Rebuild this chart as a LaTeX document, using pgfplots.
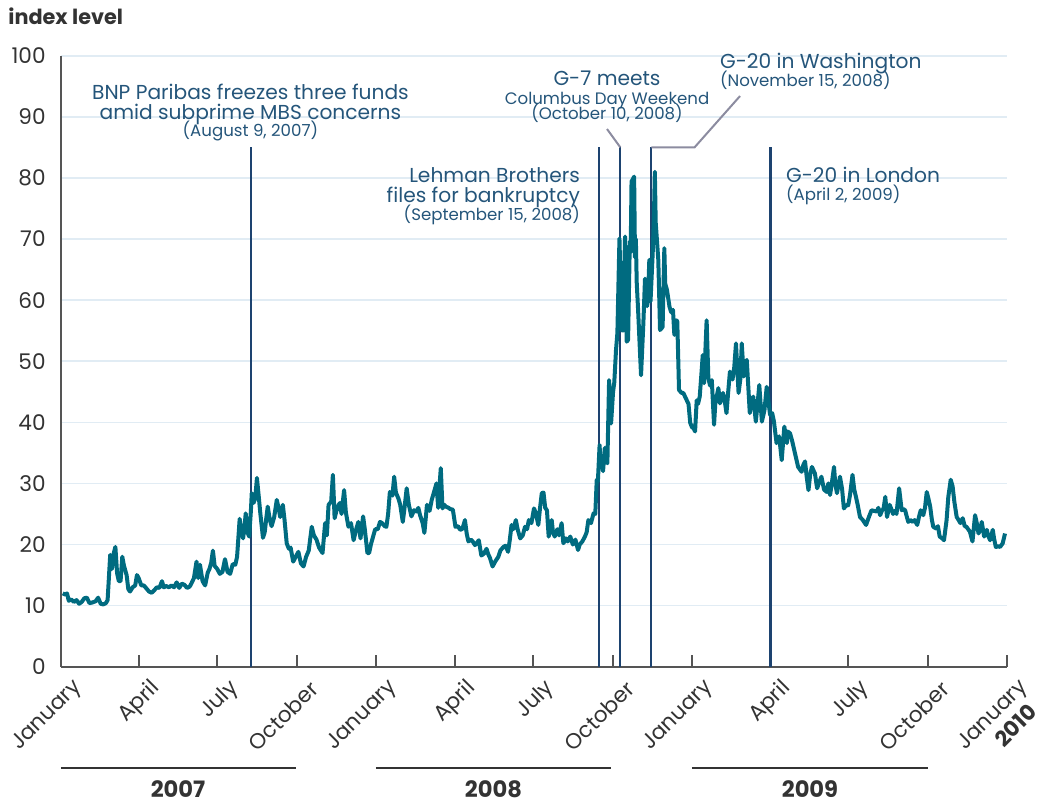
\documentclass[border=0pt]{standalone}
\usepackage{fontspec}
\setmainfont{Poppins}
\usepackage{pgfplots}
\pgfplotsset{compat=1.18}
\definecolor{vixline}{HTML}{006B80}
\definecolor{evline}{HTML}{1D4370}
\definecolor{annot}{HTML}{24557A}
\definecolor{leader}{HTML}{8C8CA0}
\definecolor{gridblue}{HTML}{E1ECF4}
\definecolor{axisgray}{HTML}{555555}
\definecolor{labelgray}{HTML}{333333}
\newcommand{\fsA}{\fontsize{10.8bp}{12bp}\selectfont}% ticks
\newcommand{\fsY}{\fontsize{11.3bp}{13bp}\selectfont}% years
\newcommand{\fsB}{\fontsize{10.1bp}{12bp}\selectfont}% event titles
\newcommand{\fsC}{\fontsize{8.3bp}{10bp}\selectfont}% event dates

\begin{document}
\begin{tikzpicture}
\useasboundingbox (0,0) rectangle (522.5bp,-403bp);
\begin{axis}[
  at={(30.5bp,-333.35bp)}, anchor=south west,
  scale only axis, width=473bp, height=305.5bp,
  xmin=0, xmax=1096, ymin=0, ymax=100,
  clip=false,
  axis x line=bottom, axis y line=left,
  axis line style={draw=axisgray, line width=1bp, -},
  xtick={0,90,181,273,365,456,547,639,731,821,912,1004,1096},
  xticklabels={January,April,July,October,January,April,July,October,January,April,July,October,January},
  x tick style={draw=axisgray, line width=1bp},
  major tick length=6bp,
  tick align=inside,
  ytick={0,10,...,100},
  y tick style={draw=none},
  ymajorgrids, grid style={gridblue, line width=0.8bp},
  tick label style={font=\fsA, text=labelgray},
  /pgf/number format/assume math mode=true,
  yticklabel style={anchor=east, inner sep=0pt, xshift=-7.5bp},
  xticklabel style={anchor=east, inner sep=0pt, xshift=9bp, yshift=-9bp, rotate=45},
]
% event lines
\draw[evline, line width=1.1bp] (axis cs:220,0) -- (axis cs:220,85);
\draw[evline, line width=1.1bp] (axis cs:623,0) -- (axis cs:623,85);
\draw[evline, line width=1.1bp] (axis cs:648,0) -- (axis cs:648,85);
\draw[evline, line width=1.1bp] (axis cs:684,0) -- (axis cs:684,85);
\draw[evline, line width=1.1bp] (axis cs:822,0) -- (axis cs:822,85);
% leaders
\draw[leader, line width=1bp] (axis cs:632.6,88) -- (axis cs:648,85);
\draw[leader, line width=1bp] (axis cs:786.7,93.4) -- (axis cs:734,85) -- (axis cs:684,85);

% index level
\addplot[vixline, line width=2bp, line join=round] coordinates {
(2,12.0) (5,11.8) (7,12.0) (9,10.8) (12,11.0) (15,10.6) (18,10.9) (21,10.3)
(24,10.6) (27,11.2) (30,11.3) (33,10.4) (36,10.5) (40,10.7) (43,11.3) (46,10.3)
(49,10.2) (52,10.4) (54,10.9) (57,18.3) (59,16.0) (61,18.5) (63,19.6) (65,15.3)
(67,14.0) (69,14.0) (71,18.0) (73,16.5) (76,15.0) (78,12.7) (80,12.3) (83,13.0)
(86,13.3) (88,15.0) (90,14.5) (93,13.3) (96,13.3) (99,12.8) (102,12.3) (105,12.1)
(108,12.5) (111,13.0) (114,12.9) (117,14.0) (119,13.0) (122,13.2) (125,13.0)
(128,13.3) (131,13.0) (134,13.8) (137,12.9) (140,13.6) (143,13.4) (146,12.9)
(149,13.1) (151,13.6) (154,14.5) (157,17.2) (159,14.5) (161,16.7) (164,14.0)
(167,13.3) (170,15.4) (172,16.0) (174,17.0) (176,19.0) (178,16.5) (181,16.0)
(184,15.2) (187,15.5) (190,17.6) (193,15.5) (196,15.2) (199,16.8) (202,16.7)
(204,18.0) (207,24.2) (209,22.0) (211,21.0) (213,23.5) (214,25.1) (216,22.0)
(218,21.3) (220,25.5) (221,28.4) (223,26.8) (225,27.5) (227,30.9) (229,28.0)
(231,25.0) (234,21.1) (236,22.0) (238,24.5) (239.5,26.2) (242,24.0) (244,23.0)
(247,24.5) (250,27.3) (252,26.0) (254,24.5) (257,26.5) (259,24.0) (261.5,20.2)
(264,19.3) (266,19.5) (269,17.2) (272,18.0) (275,18.8) (278,16.9) (281,16.4)
(284,18.0) (287,19.0) (290.5,22.9) (293,21.5) (296,20.8) (299,19.5) (303,18.6)
(306,23.5) (308,21.5) (310,26.5) (313,27.0) (315,31.4) (317,24.3) (320,26.0)
(323,26.8) (325,25.0) (328,28.9) (330,25.3) (333,22.9) (336,23.5) (339,20.7)
(342,22.5) (344.5,23.7) (347,21.0) (350,24.6) (352,22.5) (355,18.6) (357,18.6)
(359,20.0) (362,21.5) (364,22.5)
(367,22.5) (369.6,23.7) (372,23.5) (375,23.0) (377,22.9) (379,25.0) (381,28.6)
(384,28.0) (386,31.1) (388,28.5) (391,27.5) (393,26.5) (396,23.7) (398,26.0)
(400.5,29.2) (403,26.5) (406,24.6) (409,25.6) (412,25.4) (414,26.0) (416,24.8)
(419,23.5) (421,21.9) (424,26.5) (427,25.5) (429.5,27.3) (432,28.5) (435,30.0)
(437,26.0) (439,30.5) (440,32.5) (442,25.9) (444,26.5) (446,26.2) (449,26.0)
(451,25.8) (454,25.7) (457,22.9) (460,23.0) (462,22.5) (464,22.4) (466,23.0)
(468,24.0) (470,21.8) (472,20.5) (475,20.8) (477,20.5) (479.6,19.9) (482,20.3)
(484,20.7) (487,18.2) (490,18.5) (493,19.3) (495,18.4) (497,17.8) (500,16.4)
(503,17.2) (506.7,18.0) (509,19.0) (512.5,19.6) (515,19.8) (518,18.8) (520,20.8)
(522,23.2) (524,22.5) (527,24.0) (529,22.5) (532,21.0) (535,21.5) (537.6,22.9)
(540,22.5) (542,24.0) (545,23.5) (548,25.9) (550,25.2) (553,23.2) (555,26.0)
(557,28.4) (559,28.5) (561,26.0) (563,25.6) (565,21.3) (567,22.5) (568.5,24.0)
(570,22.0) (572,21.3) (575,22.5) (577,21.5) (580,23.5) (582,20.2) (585,21.0)
(587,20.5) (590,21.3) (593,20.0) (596,20.8) (599,19.1) (601,20.0) (604,20.5)
(607,21.3) (609,22.0) (611,24.0) (614,23.5) (617,25.1) (619,25.0) (620.7,30.6)
(622,30.3) (624,36.3) (625,33.0) (626.6,33.3) (628,32.0) (630,35.8) (632,33.5)
(633,33.3) (635,46.9) (637.3,39.8) (639.6,45.0) (641,46.5) (643,51.8) (644.6,54.6)
(647,70.1) (649.6,55.1) (651,55.0) (653.5,70.4) (654,67.0) (655.4,53.2) (657,53.5)
(659,69.6) (660,67.8) (661,79.4) (664,80.2) (665,67.0) (666,70.0) (667,62.9)
(668.6,58.4) (672,47.7) (674.7,56.2) (676.6,63.5) (679,59.0) (680,60.0) (681.6,66.6)
(683,59.8) (685.5,67.6) (687,74.0) (688,81.0) (689,72.7) (692,66.6) (693,61.0)
(694,55.1) (697,55.6) (699,68.5) (700,62.7) (702,61.7) (705,58.9) (707,58.0)
(709,58.4) (710.6,54.3) (713,56.7) (714,56.5) (715,51.0) (716,45.3) (719,44.8)
(721,44.8) (725,43.6) (727,43.0) (729,39.9) (731,39.2) (733,39.0) (734.6,38.5)
(736.5,43.6) (738,43.0) (740,44.2) (742,48.0) (743.5,51.0) (745,46.4) (748,56.7)
(750,47.2) (752,46.0) (754,46.9) (756.6,39.6) (758,43.0) (761.6,45.6) (763.5,43.1)
(767,44.8) (769,43.5) (771,41.5) (773,45.0) (775,48.3) (778,47.0) (780,49.0)
(782,52.9) (785,44.8) (787,47.0) (788.7,52.9) (791,47.5) (792,49.5) (794.5,50.2)
(796,46.5) (798,41.5) (800,43.5) (802,44.2) (805,40.1) (807,43.0) (809,46.1)
(812,40.1) (815,42.0) (817.6,45.8) (820,43.0) (821.5,41.2) (824,41.5) (826,40.1)
(829,36.6) (832,37.7) (835,33.8) (838,39.3) (841,36.6) (842,38.5) (844.6,38.2)
(847,37.0) (850.4,34.9) (854,32.7) (858,31.9) (860,33.0) (862,33.6) (864,31.0)
(866,28.9) (868,31.5) (870,32.7) (873.5,31.6) (876,29.2) (878,30.0) (881,31.1)
(884,29.0) (887,28.6) (889,30.0) (891,28.1) (893,30.0) (895.6,32.7) (897,30.0)
(899,28.4) (902.5,31.1) (905,29.0) (907,25.9) (910,26.5) (912,26.4) (914,28.0)
(917,31.4) (919,29.0) (921,27.8) (923,26.5) (925.7,24.5) (929,24.0) (932.7,23.2)
(936,24.5) (939,25.6) (942,25.5) (945,25.4) (947,26.0) (949,24.8) (951,25.5)
(953,25.9) (955,27.8) (957,24.5) (960,26.5) (962,25.8) (964,25.0) (966,25.5)
(968,25.0) (971,29.2) (974,25.6) (976,25.8) (978,25.6) (980,24.5) (981.6,23.7)
(984,24.0) (987,23.7) (989,24.0) (992,23.2) (994,24.5) (996,25.6) (999,24.8)
(1001,26.0) (1003,28.6) (1005,27.5) (1007,26.2) (1009,24.0) (1010.6,22.9)
(1014,22.6) (1016,23.0) (1018,21.3) (1021,21.0) (1023,20.7) (1026,24.0) (1028,27.8)
(1030.8,30.6) (1033,29.5) (1035,27.0) (1037.7,24.5) (1040,24.0) (1042,23.5)
(1044.7,24.3) (1047,23.0) (1049,22.9) (1051,22.5) (1053,22.1) (1056,20.5)
(1059,24.8) (1061,23.5) (1063,21.8) (1065,22.5) (1066.7,23.7) (1069.5,21.3)
(1072.6,22.4) (1074,21.5) (1076.4,20.7) (1079.5,22.4) (1081,21.0) (1083,19.6)
(1086,19.7) (1088,19.6) (1091,20.2) (1093.7,21.8)
};

% annotations
\node[anchor=base, font=\fsB, text=annot] at (axis cs:219.5,92.8) {BNP Paribas freezes three funds};
\node[anchor=base, font=\fsB, text=annot] at (axis cs:219.5,89.6) {amid subprime MBS concerns};
\node[anchor=base, font=\fsC, text=annot] at (axis cs:219.5,86.7) {(August 9, 2007)};
\node[anchor=base east, font=\fsB, text=annot] at (axis cs:609.4,79.3) {Lehman Brothers};
\node[anchor=base east, font=\fsB, text=annot] at (axis cs:609.4,76.0) {files for bankruptcy};
\node[anchor=base east, font=\fsC, text=annot] at (axis cs:609.4,73.0) {(September 15, 2008)};
\node[anchor=base, font=\fsB, text=annot] at (axis cs:632.6,95.1) {G-7 meets};
\node[anchor=base, font=\fsC, text=annot] at (axis cs:632.6,92.0) {Columbus Day Weekend};
\node[anchor=base, font=\fsC, text=annot] at (axis cs:632.6,89.5) {(October 10, 2008)};
\node[anchor=base west, font=\fsB, text=annot] at (axis cs:755.4,97.9) {G-20 in Washington};
\node[anchor=base west, font=\fsC, text=annot] at (axis cs:755.4,94.9) {(November 15, 2008)};
\node[anchor=base west, font=\fsB, text=annot] at (axis cs:831.9,79.3) {G-20 in London};
\node[anchor=base west, font=\fsC, text=annot] at (axis cs:831.9,76.3) {(April 2, 2009)};
\end{axis}

\begin{scope}[x=0.5bp, y=-0.5bp]
\node[anchor=base west, inner sep=0pt, font=\bfseries\fontsize{10.4bp}{12bp}\selectfont, text=labelgray] at (8,24) {index level};
\draw[labelgray, line width=0.9bp] (61,767.7) -- (296,767.7);
\draw[labelgray, line width=0.9bp] (376,767.7) -- (611,767.7);
\draw[labelgray, line width=0.9bp] (692,767.7) -- (928,767.7);
\node[anchor=base, inner sep=0pt, font=\bfseries\fsY, text=labelgray] at (178,798) {2007};
\node[anchor=base, inner sep=0pt, font=\bfseries\fsY, text=labelgray] at (493.5,798) {2008};
\node[anchor=base, inner sep=0pt, font=\bfseries\fsY, text=labelgray] at (810,798) {2009};
\node[anchor=east, inner sep=0pt, rotate=45, font=\bfseries\fsA, text=labelgray] at (1033,708) {2010};
\end{scope}
\end{tikzpicture}
\end{document}
